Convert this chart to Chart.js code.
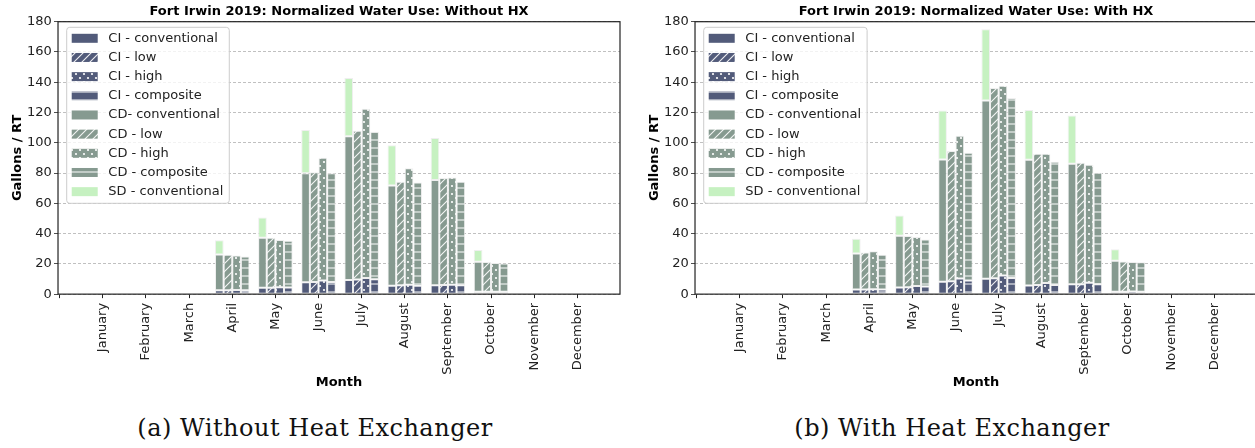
<!DOCTYPE html>
<html>
<head>
<meta charset="utf-8">
<script src="https://cdn.jsdelivr.net/npm/chart.js@4.4.1/dist/chart.umd.min.js"></script>
<style>
  body { margin: 0; width: 1255px; height: 448px; overflow: hidden; background: #fff; position: relative; }
  canvas { position: absolute; top: 0; }
  .cap { position: absolute; top: 417px; width: 630px; text-align: center; font-family: 'DejaVu Serif'; font-size: 24px; line-height: 23px; letter-spacing: 0.5px; color: #111; }
</style>
</head>
<body>
<canvas id="noHx" width="637" height="390" style="left:0"></canvas>
<canvas id="withHx" width="637" height="390" style="left:637px"></canvas>
<div class="cap" style="left:0">(a) Without Heat Exchanger</div>
<div class="cap" style="left:637px">(b) With Heat Exchanger</div>
<script>
const months = ['January', 'February', 'March', 'April', 'May', 'June', 'July',
  'August', 'September', 'October', 'November', 'December'];

// Without HX (gallons / RT per segment)
const noCiConv = [0, 0, 0, 2.6, 4.3, 7.8, 9.3, 5.5, 5.8, 1.5, 0, 0];
const noCiLow  = [0, 0, 0, 2.6, 4.3, 8.0, 9.6, 5.8, 6.0, 1.5, 0, 0];
const noCiHigh = [0, 0, 0, 2.8, 4.6, 9.0, 10.6, 6.2, 6.2, 1.6, 0, 0];
const noCiComp = [0, 0, 0, 2.6, 4.4, 8.0, 9.8, 5.6, 5.8, 1.5, 0, 0];
const noCdConv = [0, 0, 0, 23.6, 33.0, 72.0, 95.1, 66.3, 69.6, 19.9, 0, 0];
const noCdLow  = [0, 0, 0, 23.4, 33.0, 72.6, 98.4, 68.4, 70.7, 19.7, 0, 0];
const noCdHigh = [0, 0, 0, 22.7, 31.1, 81.1, 111.9, 76.9, 70.9, 18.9, 0, 0];
const noCdComp = [0, 0, 0, 22.2, 30.8, 71.8, 97.5, 68.2, 68.4, 18.8, 0, 0];
const noSdConv = [0, 0, 0, 9.4, 13.4, 28.6, 38.4, 26.5, 27.7, 7.7, 0, 0];

// With HX
const hxCiConv = [0, 0, 0, 3.0, 4.4, 8.2, 10.1, 5.7, 6.6, 1.5, 0, 0];
const hxCiLow  = [0, 0, 0, 3.0, 4.6, 8.5, 10.5, 6.0, 6.6, 1.5, 0, 0];
const hxCiHigh = [0, 0, 0, 3.2, 5.3, 10.4, 12.3, 7.3, 7.5, 1.7, 0, 0];
const hxCiComp = [0, 0, 0, 3.0, 5.0, 9.0, 10.6, 6.0, 6.5, 1.5, 0, 0];
const hxCdConv = [0, 0, 0, 23.9, 34.2, 80.8, 117.9, 83.1, 79.6, 20.5, 0, 0];
const hxCdLow  = [0, 0, 0, 24.5, 33.8, 86.0, 125.7, 86.8, 80.2, 20.1, 0, 0];
const hxCdHigh = [0, 0, 0, 25.2, 32.4, 94.3, 125.4, 85.5, 78.0, 19.5, 0, 0];
const hxCdComp = [0, 0, 0, 23.0, 31.1, 84.4, 119.0, 81.5, 73.7, 19.5, 0, 0];
const hxSdConv = [0, 0, 0, 9.7, 13.4, 32.4, 47.0, 32.8, 31.9, 7.7, 0, 0];

const CI = '#525b7a', CD = '#869a90', SD = '#c6f1c1';

Chart.defaults.font.family = 'DejaVu Sans';
Chart.defaults.font.size = 13;
Chart.defaults.color = '#222';

// hatch fills like matplotlib '//', '..', '--'
function hatch(ctx, color, kind) {
  const t = document.createElement('canvas');
  t.width = 8; t.height = 8;
  const g = t.getContext('2d');
  g.fillStyle = color;
  g.fillRect(0, 0, 8, 8);
  g.strokeStyle = 'rgba(255,255,255,0.9)';
  g.fillStyle = '#fff';
  g.lineWidth = 1.1;
  if (kind === 'low') {
    g.beginPath();
    g.moveTo(-2, 10); g.lineTo(10, -2);
    g.moveTo(-2, 2); g.lineTo(2, -2);
    g.moveTo(6, 10); g.lineTo(10, 6);
    g.stroke();
  } else if (kind === 'high') {
    [[4, 2], [0, 6], [8, 6]].forEach(p => {
      g.beginPath(); g.arc(p[0], p[1], 1.1, 0, Math.PI * 2); g.fill();
    });
  } else if (kind === 'comp') {
    g.beginPath(); g.moveTo(0, 4); g.lineTo(8, 4); g.stroke();
  }
  return ctx.createPattern(t, 'repeat');
}

function series(label, values, stack, fill) {
  return {
    label: label,
    stack: stack,
    data: values.map((v, i) => ({ x: i, y: v })),
    backgroundColor: fill,
    borderColor: 'rgba(238,238,238,0.95)',
    borderWidth: 1,
    borderSkipped: false,
    categoryPercentage: 0.8,
    barPercentage: 1
  };
}

// legend box inside the axes, top left
const boxLegend = {
  id: 'boxLegend',
  afterDatasetsDraw(chart) {
    const ctx = chart.ctx, a = chart.chartArea;
    const sets = chart.data.datasets;
    ctx.save();
    ctx.font = '13px "DejaVu Sans"';
    let tw = 0;
    sets.forEach(d => { tw = Math.max(tw, ctx.measureText(d.label).width); });
    const x = a.left + 8.7, y = a.top + 5.6, w = 41.6 + tw + 6, h = 176;
    ctx.fillStyle = 'rgba(255,255,255,0.8)';
    ctx.strokeStyle = '#cccccc';
    ctx.lineWidth = 1;
    ctx.beginPath();
    ctx.roundRect(x, y, w, h, 3);
    ctx.fill();
    ctx.stroke();
    sets.forEach((d, i) => {
      const cy = y + 11 + i * 19.17;
      ctx.fillStyle = d.backgroundColor;
      ctx.fillRect(x + 5, cy - 4.5, 26, 9);
      ctx.fillStyle = '#222';
      ctx.textBaseline = 'middle';
      ctx.fillText(d.label, x + 41.6, cy);
    });
    ctx.restore();
  }
};

// axes box and title centred on the axes
const frame = {
  id: 'frame',
  afterDraw(chart, args, opts) {
    const ctx = chart.ctx, a = chart.chartArea;
    ctx.save();
    ctx.strokeStyle = '#222';
    ctx.lineWidth = 1.2;
    ctx.strokeRect(a.left, a.top, a.right - a.left, a.bottom - a.top);
    ctx.fillStyle = '#000';
    ctx.font = 'bold 13px "DejaVu Sans"';
    ctx.textAlign = 'center';
    ctx.textBaseline = 'alphabetic';
    ctx.fillText(opts.text, (a.left + a.right) / 2, 14.5);
    ctx.restore();
  }
};

function makeChart(id, title, cdConvLabel, d) {
  const ctx = document.getElementById(id).getContext('2d');
  return new Chart(ctx, {
    type: 'bar',
    data: {
      datasets: [
        series('CI - conventional', d[0], 'conv', CI),
        series('CI - low', d[1], 'low', hatch(ctx, CI, 'low')),
        series('CI - high', d[2], 'high', hatch(ctx, CI, 'high')),
        series('CI - composite', d[3], 'comp', hatch(ctx, CI, 'comp')),
        series(cdConvLabel, d[4], 'conv', CD),
        series('CD - low', d[5], 'low', hatch(ctx, CD, 'low')),
        series('CD - high', d[6], 'high', hatch(ctx, CD, 'high')),
        series('CD - composite', d[7], 'comp', hatch(ctx, CD, 'comp')),
        series('SD - conventional', d[8], 'conv', SD)
      ]
    },
    options: {
      responsive: false,
      animation: false,
      layout: { padding: { top: 21.7, right: 17, bottom: 0, left: 0 } },
      plugins: {
        legend: { display: false },
        tooltip: { enabled: false },
        frame: { text: title }
      },
      scales: {
        x: {
          type: 'linear',
          min: -1.04,
          max: 11.99,
          offset: false,
          ticks: {
            stepSize: 1,
            includeBounds: false,
            autoSkip: false,
            minRotation: 90,
            maxRotation: 90,
            padding: 4.7,
            callback: v => months[v] || ''
          },
          grid: { drawOnChartArea: false, offset: false, tickLength: 4, tickColor: '#222' },
          border: { display: false },
          title: { display: true, text: 'Month', color: '#000', font: { weight: 'bold' }, padding: { top: -5, bottom: 0 } }
        },
        y: {
          min: 0,
          max: 180,
          stacked: true,
          ticks: { stepSize: 20, padding: 2.3 },
          grid: { color: '#b0b0b0', lineWidth: 0.8, tickLength: 4, tickColor: '#222', tickBorderDash: [] },
          border: { display: false, dash: [3, 2] },
          title: { display: true, text: 'Gallons / RT', color: '#000', font: { weight: 'bold' }, padding: { top: 9.7, bottom: -0.7 } }
        }
      }
    },
    plugins: [boxLegend, frame]
  });
}

makeChart('noHx', 'Fort Irwin 2019: Normalized Water Use: Without HX', 'CD- conventional',
  [noCiConv, noCiLow, noCiHigh, noCiComp, noCdConv, noCdLow, noCdHigh, noCdComp, noSdConv]);
makeChart('withHx', 'Fort Irwin 2019: Normalized Water Use: With HX', 'CD - conventional',
  [hxCiConv, hxCiLow, hxCiHigh, hxCiComp, hxCdConv, hxCdLow, hxCdHigh, hxCdComp, hxSdConv]);
</script>
</body>
</html>
